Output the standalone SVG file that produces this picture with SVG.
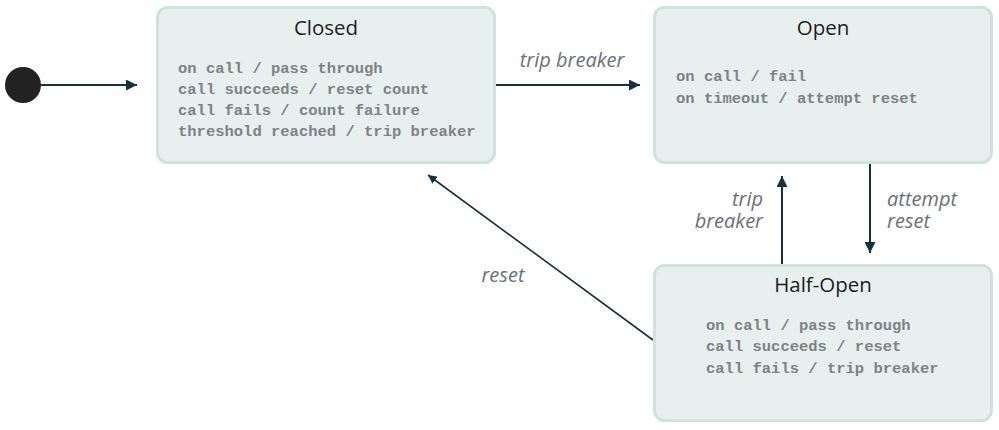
<svg xmlns="http://www.w3.org/2000/svg" width="999" height="430" viewBox="0 0 999 430">
<style>
.box{fill:#e8f0ef;stroke:#cfe2dc;stroke-width:3}
.title{font-family:"Open Sans",Lato,sans-serif;font-weight:500;font-size:20.5px;fill:#1c1c1c;text-anchor:middle}
.body{font-family:"Liberation Mono","Courier New",monospace;font-weight:bold;font-size:15.5px;fill:#7f8285}
.lbl{font-family:"Open Sans",Lato,sans-serif;font-style:italic;font-size:20px;fill:#6c7078}
.edge{stroke:#17303e;stroke-width:2;fill:none;marker-end:url(#ah)}
</style>
<defs>
<marker id="ah" viewBox="0 0 10 10" refX="10" refY="5" markerWidth="5.5" markerHeight="5.5" markerUnits="strokeWidth" orient="auto">
<path d="M0,0 L10,5 L0,10 z" fill="#17303e"/>
</marker>
</defs>
<rect width="999" height="430" fill="#ffffff"/>
<g id="connectors">
<line class="edge" x1="41" y1="85" x2="137" y2="85"/>
<line class="edge" x1="496" y1="85" x2="640" y2="85"/>
<line class="edge" x1="870" y1="164" x2="870" y2="253"/>
<line class="edge" x1="782" y1="264" x2="782" y2="176"/>
<line class="edge" x1="653" y1="340" x2="428" y2="175" style="stroke-width:1.6"/>
<text class="lbl" x="572" y="67" text-anchor="middle">trip breaker</text>
<text class="lbl" text-anchor="end"><tspan x="763" y="206">trip</tspan><tspan x="763" y="228">breaker</tspan></text>
<text class="lbl"><tspan x="887" y="206">attempt</tspan><tspan x="887" y="228">reset</tspan></text>
<text class="lbl" x="503" y="282" text-anchor="middle">reset</text>
</g>
<g id="initial">
<circle cx="23" cy="85" r="18" fill="#222222"/>
</g>
<g id="closed">
<rect class="box" x="157.5" y="7.5" width="337" height="155" rx="10"/>
<text class="title" x="326" y="35">Closed</text>
<text class="body" x="178" y="73">on call / pass through</text>
<text class="body" x="178" y="94">call succeeds / reset count</text>
<text class="body" x="178" y="115">call fails / count failure</text>
<text class="body" x="178" y="136">threshold reached / trip breaker</text>
</g>
<g id="open">
<rect class="box" x="654.5" y="7.5" width="337" height="155" rx="10"/>
<text class="title" x="823" y="35">Open</text>
<text class="body" x="676" y="81">on call / fail</text>
<text class="body" x="676" y="103">on timeout / attempt reset</text>
</g>
<g id="half-open">
<rect class="box" x="654.5" y="265.5" width="337" height="155" rx="10"/>
<text class="title" x="823" y="292">Half-Open</text>
<text class="body" x="706" y="330">on call / pass through</text>
<text class="body" x="706" y="351">call succeeds / reset</text>
<text class="body" x="706" y="373">call fails / trip breaker</text>
</g>
</svg>
